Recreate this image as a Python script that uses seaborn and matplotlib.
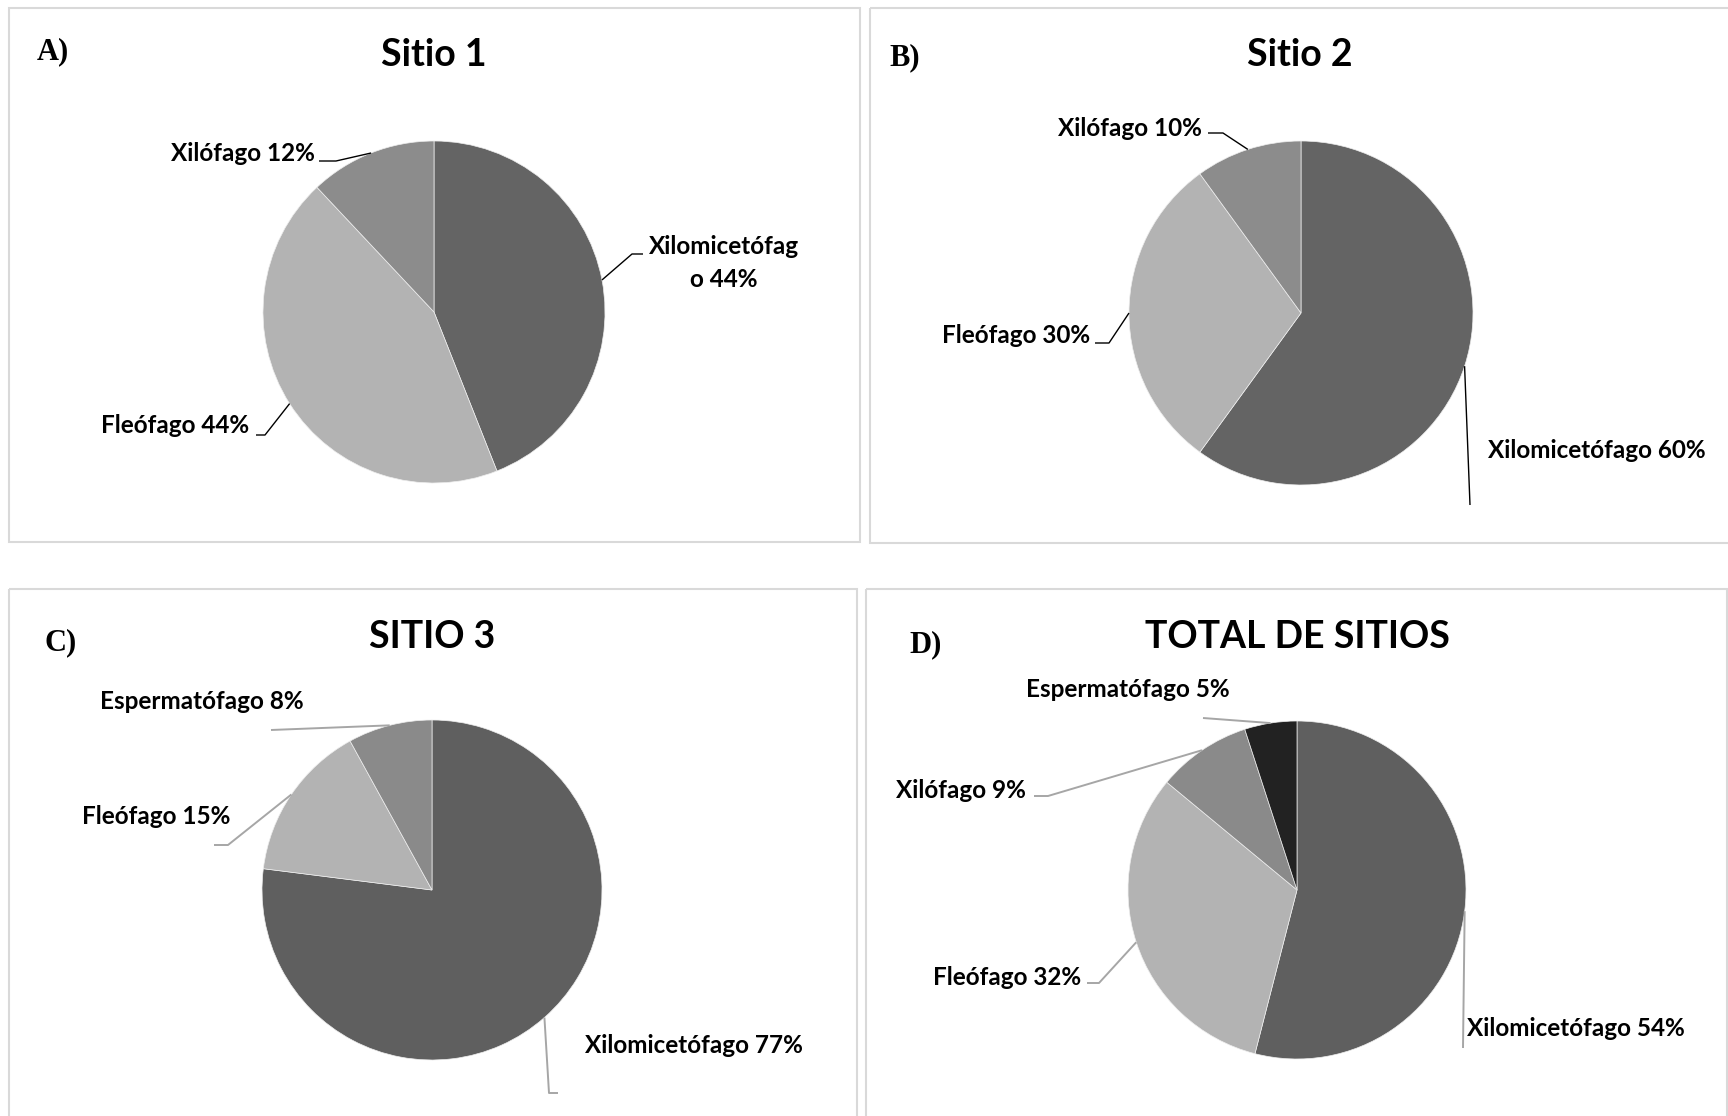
import matplotlib
matplotlib.use("Agg")
import matplotlib.pyplot as plt
from matplotlib.patches import Rectangle
import numpy as np
import seaborn as sns

# Feeding-guild composition (%) of the beetles collected at each site
sitio1_grupos = ["Xilomicetófago", "Fleófago", "Xilófago"]
sitio1_pct = [44, 44, 12]

sitio2_grupos = ["Xilomicetófago", "Fleófago", "Xilófago"]
sitio2_pct = [60, 30, 10]

sitio3_grupos = ["Xilomicetófago", "Fleófago", "Espermatófago"]
sitio3_pct = [77, 15, 8]

total_grupos = ["Xilomicetófago", "Fleófago", "Xilófago", "Espermatófago"]
total_pct = [54, 32, 9, 5]

titulos = ["Sitio 1", "Sitio 2", "SITIO 3", "TOTAL DE SITIOS"]
letras = ["A)", "B)", "C)", "D)"]

sns.set_theme(style="white")
plt.rcParams["font.family"] = ["Lato", "DejaVu Sans"]

W, H = 1728, 1116
fig = plt.figure(figsize=(W / 100, H / 100), dpi=100)
ax = fig.add_axes([0, 0, 1, 1])

grey_ab = sns.color_palette(["#646464", "#b3b3b3", "#8c8c8c"])
grey_c = sns.color_palette(["#5f5f5f", "#b3b3b3", "#8a8a8a"])
grey_d = sns.color_palette(["#5f5f5f", "#b3b3b3", "#8a8a8a", "#222222"])

# Layout of each panel in pixel units (y grows downward)
paneles = [
    dict(grupos=sitio1_grupos, pct=sitio1_pct, colors=grey_ab,
         box=(9, 8, 860, 542), center=(434, 312), r=171,
         title=(434, 66), letter=(37, 59), leader="#000000", lw=1.0,
         labels=[
             dict(x=724, y=254, ha="center", via=[(632, 254), (643, 254)], wrap=13),
             dict(x=249, y=433, ha="right", via=[(265, 435), (256, 435)]),
             dict(x=315, y=161, ha="right", via=[(336, 161), (319, 161)]),
         ]),
    dict(grupos=sitio2_grupos, pct=sitio2_pct, colors=grey_ab,
         box=(870, 8, 1740, 543), center=(1301, 313), r=172,
         title=(1300, 66), letter=(889, 65), leader="#000000", lw=1.0,
         labels=[
             dict(x=1488, y=458, ha="left", via=[(1470, 505)]),
             dict(x=1090, y=343, ha="right", via=[(1109, 343), (1095, 343)]),
             dict(x=1202, y=136, ha="right", via=[(1223, 133), (1208, 133)]),
         ]),
    dict(grupos=sitio3_grupos, pct=sitio3_pct, colors=grey_c,
         box=(9, 589, 857, 1130), center=(432, 890), r=170,
         title=(432, 648), letter=(44, 650), leader="#a6a6a6", lw=1.4,
         labels=[
             dict(x=585, y=1053, ha="left", via=[(549, 1093), (558, 1093)]),
             dict(x=230, y=824, ha="right", via=[(228, 845), (214, 845)]),
             dict(x=304, y=709, ha="right", via=[(271, 730)]),
         ]),
    dict(grupos=total_grupos, pct=total_pct, colors=grey_d,
         box=(866, 589, 1727, 1130), center=(1297, 890), r=169,
         title=(1297, 648), letter=(909, 652), leader="#a6a6a6", lw=1.4,
         labels=[
             dict(x=1467, y=1036, ha="left", via=[(1463, 1048)]),
             dict(x=1081, y=985, ha="right", via=[(1099, 983), (1087, 983)]),
             dict(x=1026, y=798, ha="right", via=[(1048, 796), (1034, 796)]),
             dict(x=1230, y=697, ha="right", via=[(1203, 718)]),
         ]),
]

label_kw = dict(fontsize=17.5, fontweight="bold", color="#000000", va="baseline")

for p, titulo, letra in zip(paneles, titulos, letras):
    x0, y0, x1, y1 = p["box"]
    ax.add_patch(Rectangle((x0, y0), x1 - x0, y1 - y0, fill=False,
                           edgecolor="#d9d9d9", linewidth=1.5, zorder=0))

    # y axis is inverted, so counterclock=True runs clockwise on screen
    wedges, _ = ax.pie(p["pct"], colors=p["colors"], center=p["center"],
                       radius=p["r"], startangle=-90, counterclock=True,
                       frame=True, wedgeprops=dict(linewidth=0.5, edgecolor="#eeeeee"))

    cx, cy = p["center"]
    for w, g, v, lab in zip(wedges, p["grupos"], p["pct"], p["labels"]):
        ang = np.deg2rad((w.theta1 + w.theta2) / 2)
        anchor = (cx + p["r"] * np.cos(ang), cy + p["r"] * np.sin(ang))
        pts = [anchor] + lab["via"]
        ax.plot([q[0] for q in pts], [q[1] for q in pts], color=p["leader"],
                lw=p["lw"], solid_capstyle="butt", zorder=3)
        texto = f"{g} {v}%"
        if "wrap" in lab:
            k = lab["wrap"]
            lineas = [texto[:k], texto[k:]]
        else:
            lineas = [texto]
        for i, ln in enumerate(lineas):
            ax.text(lab["x"], lab["y"] + i * 33, ln, ha=lab["ha"], **label_kw)

    tx, ty = p["title"]
    ax.text(tx, ty, titulo, ha="center", va="baseline", fontsize=27,
            fontweight="bold", color="#000000")
    lx, ly = p["letter"]
    ax.text(lx, ly, letra, ha="left", va="baseline", fontsize=22,
            fontweight="bold", family=["Liberation Serif", "DejaVu Serif"],
            color="#000000")

ax.set_xlim(0, W)
ax.set_ylim(H, 0)
ax.set_aspect("auto")
ax.set_axis_off()

fig.savefig("out.png", dpi=100, facecolor="white")
